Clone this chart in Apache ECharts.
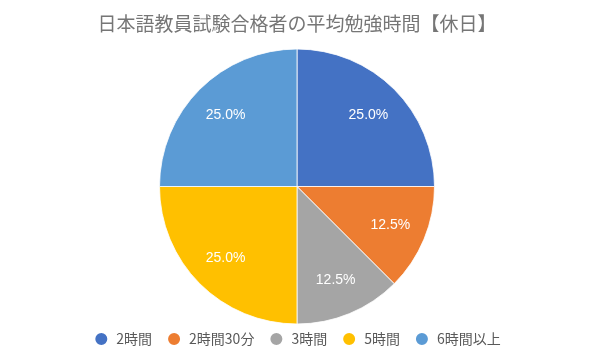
<!DOCTYPE html>
<html><head><meta charset="utf-8">
<script src="https://cdn.jsdelivr.net/npm/echarts@6/dist/echarts.min.js"></script>
<style>html,body{margin:0;padding:0;background:#fff}#c{width:594px;height:363px}</style>
</head><body><div id="c"></div>
<script>
var titleText = '日本語教員試験合格者の平均勉強時間【休日】';
var categories = ['2時間', '2時間30分', '3時間', '5時間', '6時間以上'];
var values = [25.0, 12.5, 12.5, 25.0, 25.0];
var colors = ['#4472C4', '#ED7D31', '#A5A5A5', '#FFC000', '#5B9BD5'];

var data = categories.map(function (c, i) { return { name: c, value: values[i] }; });
var chart = echarts.init(document.getElementById('c'));
chart.setOption({
  backgroundColor: '#fff',
  color: colors,
  animation: false,
  title: {
    text: titleText, left: 'center', top: 9,
    textStyle: { fontFamily: 'Noto Sans CJK JP', fontSize: 19, fontWeight: 'normal', color: '#767676' }
  },
  legend: {
    bottom: 11, left: 'center', icon: 'circle', itemWidth: 14, itemHeight: 14, itemGap: 14,
    data: categories,
    textStyle: { fontFamily: 'Noto Sans CJK JP', fontSize: 14, color: '#595959', padding: [0, 0, 0, 3] }
  },
  series: [
    {
      type: 'pie', center: [297, 186.5], radius: [0, 137.5], startAngle: 90, clockwise: true,
      data: data, label: { show: false }, labelLine: { show: false }, silent: true,
      itemStyle: { borderColor: '#fff', borderWidth: 0.8 }
    },
    {
      type: 'pie', center: [297, 186.5], radius: [59, 137], startAngle: 90, clockwise: true,
      data: data, silent: true, legendHoverLink: false,
      itemStyle: { color: 'rgba(0,0,0,0)' },
      label: {
        show: true, position: 'inside', color: '#fff', fontSize: 14,
        fontFamily: 'Liberation Sans',
        formatter: function (p) { return p.value.toFixed(1) + '%'; }
      },
      labelLine: { show: false }
    }
  ]
});
</script></body></html>
